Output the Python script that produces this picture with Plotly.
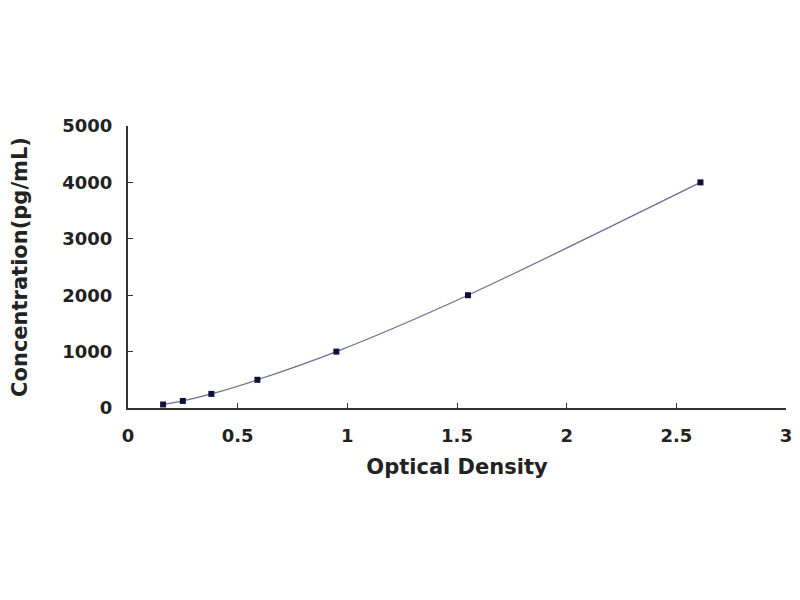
import plotly.graph_objects as go

# standard curve points
od = [0.16, 0.25, 0.38, 0.59, 0.95, 1.55, 2.61]
conc = [62.5, 125, 250, 500, 1000, 2000, 4000]

x_ticks = [0, 0.5, 1, 1.5, 2, 2.5, 3]
x_tick_text = ["0", "0.5", "1", "1.5", "2", "2.5", "3"]
y_ticks = [0, 1000, 2000, 3000, 4000, 5000]

fig = go.Figure()
fig.add_trace(
    go.Scatter(
        x=od,
        y=conc,
        mode="lines",
        line={"color": "#6a6f8c", "width": 1.2, "shape": "spline", "smoothing": 0.8},
        hoverinfo="skip",
    )
)
fig.add_trace(
    go.Scatter(
        x=od,
        y=conc,
        mode="markers",
        marker={"color": "#10103c", "size": 6, "symbol": "square"},
    )
)

tick_font = {"family": "DejaVu Sans", "size": 18, "color": "#222222"}
title_font = {"family": "DejaVu Sans", "size": 21, "color": "#222222"}
fig.update_layout(
    width=800,
    height=600,
    showlegend=False,
    plot_bgcolor="white",
    paper_bgcolor="white",
    margin={"l": 120, "r": 22, "t": 118, "b": 200},
    font={"family": "DejaVu Sans", "color": "#222222"},
)
fig.update_xaxes(
    range=[0, 3],
    tickvals=x_ticks,
    ticktext=["<b>%s</b>" % t for t in x_tick_text],
    tickfont=tick_font,
    ticks="inside",
    ticklen=5,
    tickcolor="#333333",
    ticklabelstandoff=10,
    showline=True,
    linecolor="#333333",
    linewidth=2,
    showgrid=False,
    zeroline=False,
    automargin=False,
    title={"text": "<b>Optical Density</b>", "font": title_font, "standoff": 15},
)
fig.update_yaxes(
    range=[0, 5000],
    tickvals=y_ticks,
    ticktext=["<b>%d</b>" % t for t in y_ticks],
    tickfont=tick_font,
    ticks="inside",
    ticklen=5,
    tickcolor="#333333",
    ticklabelstandoff=10,
    showline=True,
    linecolor="#333333",
    linewidth=2,
    showgrid=False,
    zeroline=False,
    automargin=False,
    title={"text": "<b>Concentration(pg/mL)</b>", "font": title_font, "standoff": 33},
)

fig.write_html("out.html")
